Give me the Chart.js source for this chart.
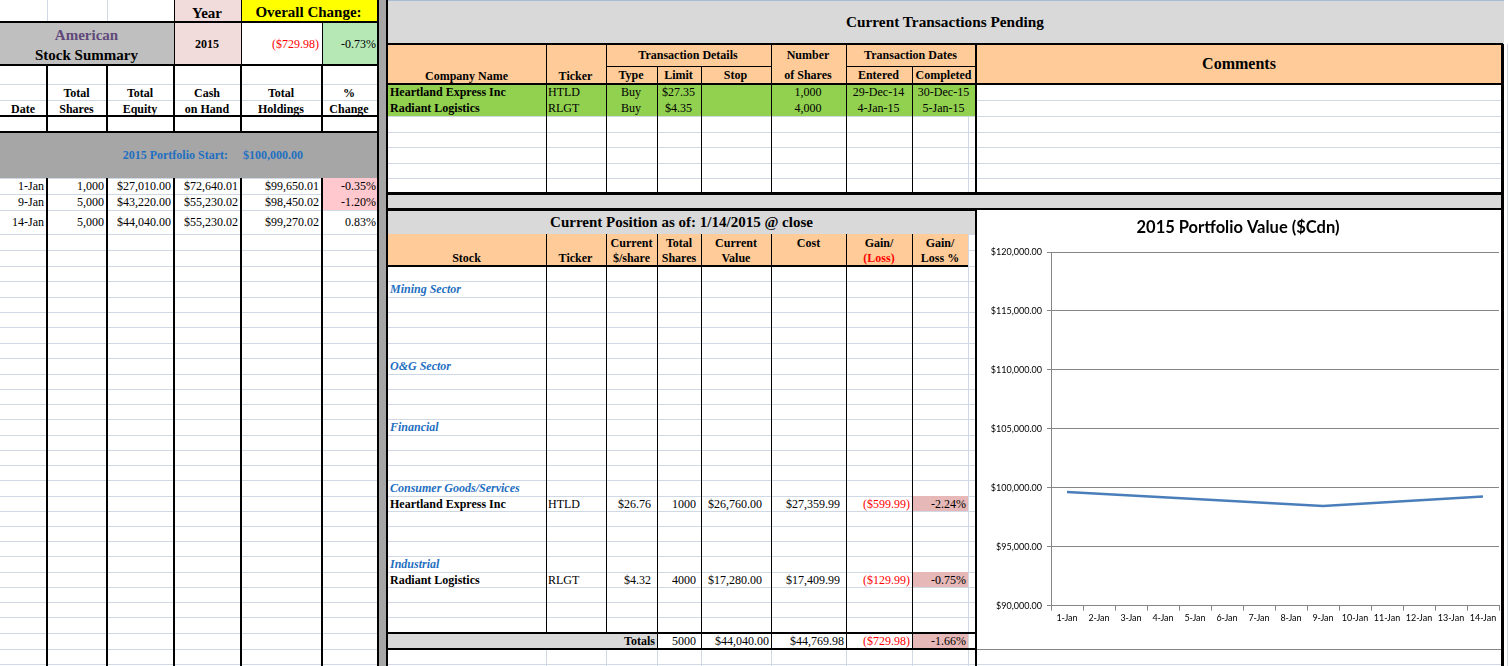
<!DOCTYPE html>
<html><head><meta charset="utf-8">
<script src="https://cdn.jsdelivr.net/npm/chart.js@4"></script>
<style>
html,body{margin:0;padding:0;background:#fff;overflow:hidden;}
#sheet{position:relative;width:1509px;height:666px;overflow:hidden;background:#fff;font-family:"Liberation Serif","Times New Roman",serif;font-size:12px;color:#000;}
#sheet div{position:absolute;box-sizing:border-box;}
.t{display:flex;align-items:center;white-space:nowrap;line-height:1;}
#chartBox{left:977px;top:210px;width:524px;height:440px;background:#fff;border-bottom:1px solid #868686;}
</style></head>
<body><div id="sheet"><div id="chartBox"><canvas id="c"></canvas></div></div>
<script>
// ---------------- chart data ----------------
const chartLabels = ['1-Jan','2-Jan','3-Jan','4-Jan','5-Jan','6-Jan','7-Jan','8-Jan','9-Jan','10-Jan','11-Jan','12-Jan','13-Jan','14-Jan'];
const portfolioValues = [99650.01,null,null,null,null,null,null,null,98450.02,null,null,null,null,99270.02];
const yMin = 90000, yMax = 120000, yStep = 5000;
const chartTitle = '2015 Portfolio Value ($Cdn)';

// ---------------- sheet data ----------------
const summaryDates = ['1-Jan','9-Jan','14-Jan'];
const summaryShares = ['1,000','5,000','5,000'];
const summaryEquity = ['$27,010.00','$43,220.00','$44,040.00'];
const summaryCash = ['$72,640.01','$55,230.02','$55,230.02'];
const summaryHoldings = ['$99,650.01','$98,450.02','$99,270.02'];
const summaryChange = ['-0.35%','-1.20%','0.83%'];

const txCompany = ['Heartland Express Inc','Radiant Logistics'];
const txTicker = ['HTLD','RLGT'];
const txType = ['Buy','Buy'];
const txLimit = ['$27.35','$4.35'];
const txShares = ['1,000','4,000'];
const txEntered = ['29-Dec-14','4-Jan-15'];
const txCompleted = ['30-Dec-15','5-Jan-15'];

const sectorNames = ['Mining Sector','O&G Sector','Financial','Consumer Goods/Services','Industrial'];
const posStock = ['Heartland Express Inc','Radiant Logistics'];
const posTicker = ['HTLD','RLGT'];
const posPrice = ['$26.76','$4.32'];
const posShares = ['1000','4000'];
const posValue = ['$26,760.00','$17,280.00'];
const posCost = ['$27,359.99','$17,409.99'];
const posGain = ['($599.99)','($129.99)'];
const posGainPct = ['-2.24%','-0.75%'];
const totals = ['5000','$44,040.00','$44,769.98','($729.98)','-1.66%'];

// ---------------- helpers ----------------
const S = document.getElementById('sheet');
const chartBox = document.getElementById('chartBox');
function rect(x1,y1,x2,y2,bg){const d=document.createElement('div');d.style.left=x1+'px';d.style.top=y1+'px';d.style.width=(x2-x1)+'px';d.style.height=(y2-y1)+'px';d.style.background=bg;S.insertBefore(d,chartBox);return d;}
function hl(x1,x2,y,w,c){return rect(x1,y-w/2,x2,y+w/2,c||'#000');}
function vl(x,y1,y2,w,c){return rect(x-w/2,y1,x+w/2,y2,c||'#000');}
function txt(x1,y1,x2,y2,s,o){o=o||{};const d=document.createElement('div');d.className='t';d.style.left=x1+'px';d.style.top=y1+'px';d.style.width=(x2-x1)+'px';d.style.height=(y2-y1)+'px';
 d.style.justifyContent=o.a==='l'?'flex-start':(o.a==='r'?'flex-end':'center');
 d.style.paddingLeft=(o.pl!=null?o.pl:2)+'px';d.style.paddingRight=(o.pr!=null?o.pr:3)+'px';
 if(o.b)d.style.fontWeight='bold';if(o.i)d.style.fontStyle='italic';if(o.c)d.style.color=o.c;if(o.s)d.style.fontSize=o.s+'px';
 d.textContent=s;S.appendChild(d);return d;}

const GRID='#d0d7e5';
// row boundaries
const Y=[0,22,44,65,84,100,116,132,147,163,178,194,210,234,250,266,281,297,312,327,343,358,374,389,404,419,435,450,465,480,496,511,526,541,556,572,587,602,617,633,649,664];
const LX=[0,47,107,174,241,322,377];
const MX=[388,546,606,657,701,771,846,912,968,976,1503];

// ---------- light gridlines ----------
for(const y of Y){ if(y>0) { hl(0,377,y,1,GRID); hl(388,1509,y,1,GRID);} }
for(const x of LX.slice(1,-1)) vl(x,0,666,1,GRID);
for(const x of MX.slice(1,9)) vl(x,44,666,1,GRID);

// ---------- fills ----------
rect(174,0,241,22,'#f2dcdb');
rect(241,0,377,22,'#ffff00');
rect(0,22,174,65,'#bfbfbf');
rect(174,22,241,65,'#f2dcdb');
rect(241,22,322,65,'#ffffff');
rect(322,22,377,65,'#b6e8b6');
rect(0,132,377,178,'#a6a6a6');
rect(322,178,377,210,'#ffc7ce');
rect(377,0,388,666,'#a6a6a6');
rect(388,0,1509,44,'#d9d9d9');
hl(388,1509,0.5,1,'#a9bcd6');
rect(388,44,1503,84,'#ffcc99');
rect(388,84,976,116,'#92d050');
rect(388,193,1503,209,'#d9d9d9');
rect(388,210,976,234,'#d9d9d9');
rect(388,234,968,266,'#ffcc99');
rect(912,496,968,511,'#e6b8b7');
rect(912,572,968,587,'#e6b8b7');
rect(388,633,657,649,'#d9d9d9');
rect(912,633,968,649,'#e6b8b7');
rect(1504,0,1509,666,'#fff'); vl(1507,44,666,1,GRID);

// ---------- black borders ----------
hl(0,377,22,2); hl(0,377,65,2); hl(0,377,116,2); hl(0,377,132,2);
vl(174,0,65,1); vl(241,0,65,1); vl(322,22,65,1);
for(const [i,x] of LX.slice(1,-1).entries()){ const w=i===0?2:1.3; vl(x,65,132,w); vl(x,178,666,w); }
vl(378,0,666,2); vl(387,0,666,2);
hl(388,1503,44,2); hl(388,1503,84,2); hl(388,1503,193.5,2.5); hl(388,1503,209.5,2.5);
hl(606,771,66,1); hl(846,976,66,1);
vl(546,44,193,1); vl(606,44,193,1); vl(657,66,193,1); vl(701,66,193,1);
vl(771,44,193,1); vl(846,44,193,1); vl(912,66,193,1); vl(976,44,193,2);
vl(1502.8,44,666,3);
hl(388,968,266,2.5);
for(const x of [546,606]) vl(x,234,633,1);
for(const x of [657,701,771,846,912]) vl(x,234,649,1);
hl(388,976,633,2.5); hl(388,976,649,2.5);
vl(976,209,666,2.5);

// ---------- texts: left ----------
txt(174,2,241,25,'Year',{b:1,s:15});
txt(241,1,377,24,'Overall Change:',{b:1,s:15});
txt(0,24,174,46,'American',{b:1,s:15,c:'#60497a'});
txt(0,44,174,66,'Stock Summary',{b:1,s:15});
txt(174,22,241,65,'2015',{b:1});
txt(241,22,322,65,'($729.98)',{a:'r',c:'#ff0000',pr:3});
txt(322,22,377,65,'-0.73%',{a:'r',pr:1});
const hdr=[['','Date'],['Total','Shares'],['Total','Equity'],['Cash','on Hand'],['Total','Holdings'],['%','Change']];
hdr.forEach((h,i)=>{ if(h[0]) txt(LX[i],84,LX[i+1],101,h[0],{b:1}); txt(LX[i],100,LX[i+1],117,h[1],{b:1}); });
txt(100,132,241,178,'2015 Portfolio Start:',{b:1,c:'#1f6fc1',s:12,a:'r',pr:13});
txt(241,132,322,178,'$100,000.00',{b:1,c:'#1f6fc1',s:12,a:'l',pl:2});
const rowsY=[[178,194],[194,210],[210,234]];
const cols=[summaryDates,summaryShares,summaryEquity,summaryCash,summaryHoldings,summaryChange];
for(let r=0;r<3;r++){ for(let c=0;c<6;c++){ txt(LX[c],rowsY[r][0],LX[c+1],rowsY[r][1],cols[c][r],{a:'r',pr:c===5?1:3}); } }

// ---------- texts: middle top ----------
txt(388,0,1503,44,'Current Transactions Pending',{b:1,s:15.3});
txt(388,66,546,86,'Company Name',{b:1});
txt(546,66,606,86,'Ticker',{b:1});
txt(606,44,771,66,'Transaction Details',{b:1});
txt(606,66,657,84,'Type',{b:1});
txt(657,66,701,84,'Limit',{b:1});
txt(701,66,771,84,'Stop',{b:1});
txt(771,44,846,66,'Number',{b:1});
txt(771,66,846,84,'of Shares',{b:1});
txt(846,44,976,66,'Transaction Dates',{b:1});
txt(846,66,912,84,'Entered',{b:1});
txt(912,66,976,84,'Completed',{b:1});
txt(976,44,1503,84,'Comments',{b:1,s:16});
for(let r=0;r<2;r++){ const y1=Y[4+r], y2=Y[5+r];
 txt(388,y1,546,y2,txCompany[r],{b:1,a:'l',pl:2});
 txt(546,y1,606,y2,txTicker[r],{a:'l',pl:2});
 txt(606,y1,657,y2,txType[r]);
 txt(657,y1,701,y2,txLimit[r]);
 txt(771,y1,846,y2,txShares[r]);
 txt(846,y1,912,y2,txEntered[r]);
 txt(912,y1,976,y2,txCompleted[r]);
}

// ---------- texts: middle lower ----------
txt(388,210,976,234,'Current Position as of: 1/14/2015 @ close',{b:1,s:15});
txt(388,250,546,266,'Stock',{b:1});
txt(546,250,606,266,'Ticker',{b:1});
const ph=[[606,657,'Current','$/share'],[657,701,'Total','Shares'],[701,771,'Current','Value'],[771,846,'Cost',''],[846,912,'Gain/','(Loss)'],[912,968,'Gain/','Loss %']];
ph.forEach(h=>{ txt(h[0],234,h[1],251,h[2],{b:1,pl:1,pr:1}); if(h[3]) txt(h[0],250,h[1],266,h[3],{b:1,pl:1,pr:1,c:h[3]==='(Loss)'?'#ff0000':'#000'}); });
const sectorRows=[16,21,25,29,34];
sectorNames.forEach((s,i)=>txt(388,Y[sectorRows[i]],700,Y[sectorRows[i]+1],s,{b:1,i:1,c:'#1f6fc1',a:'l',pl:2}));
const posRows=[30,35];
const padR=[6,5,9,6,2,2];
for(let r=0;r<2;r++){ const y1=Y[posRows[r]], y2=Y[posRows[r]+1];
 txt(388,y1,546,y2,posStock[r],{b:1,a:'l',pl:2});
 txt(546,y1,606,y2,posTicker[r],{a:'l',pl:2});
 const vals=[posPrice[r],posShares[r],posValue[r],posCost[r],posGain[r],posGainPct[r]];
 vals.forEach((v,k)=>txt(MX[2+k],y1,MX[3+k],y2,v,{a:'r',pr:padR[k],c:k===4?'#ff0000':'#000'}));
}
txt(388,633,657,649,'Totals',{b:1,a:'r',pr:2});
const tPad=[5,2,2,2,2];
totals.forEach((v,k)=>txt(MX[3+k],633,MX[4+k],649,v,{a:'r',pr:tPad[k],c:k===3?'#ff0000':'#000'}));

// ---------- chart ----------
new Chart(document.getElementById('c'),{
 type:'line',
 data:{labels:chartLabels,datasets:[{data:portfolioValues,borderColor:'#4a7ebb',borderWidth:2.5,pointRadius:0,pointHoverRadius:0,spanGaps:true,tension:0,fill:false}]},
 options:{
  responsive:true,maintainAspectRatio:false,animation:false,
  layout:{padding:{left:0,right:2,top:0,bottom:0}},
  plugins:{legend:{display:false},tooltip:{enabled:false},
   title:{display:true,text:chartTitle,color:'#000',font:{family:'Lato',size:16.5,weight:'bold'},padding:{top:8,bottom:14.2}}},
  scales:{
   x:{offset:true,grid:{offset:true,drawOnChartArea:false,drawTicks:true,tickLength:5,color:'#868686'},border:{color:'#868686'},
      ticks:{color:'#000',font:{family:'Lato',size:9},maxRotation:0,minRotation:0,autoSkip:false,padding:2},
      afterFit(s){s.height=43.3;}},
   y:{min:yMin,max:yMax,ticks:{stepSize:yStep,color:'#000',font:{family:'Lato',size:9},padding:5,
      callback:v=>'$'+Number(v).toLocaleString('en-US',{minimumFractionDigits:2,maximumFractionDigits:2})},
      grid:{color:'#868686',tickLength:4},border:{color:'#868686'},
      afterFit(s){s.width=74;}}
  }
 }
});
</script></body></html>
